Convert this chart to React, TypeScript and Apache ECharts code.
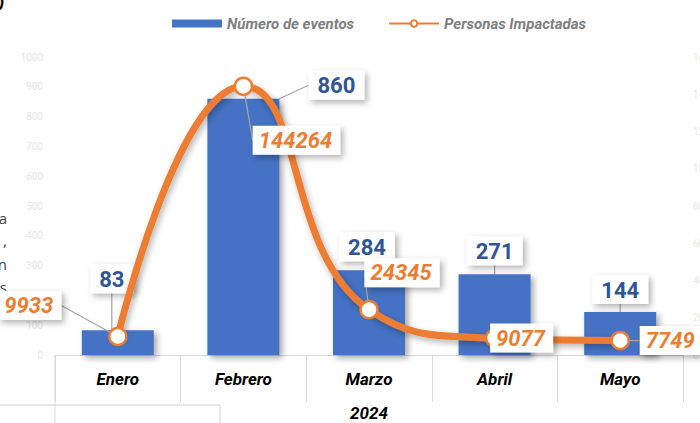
import React, { useEffect, useRef } from "react";
import * as echarts from "echarts";

const months = ["Enero", "Febrero", "Marzo", "Abril", "Mayo"];
const yearLabel = ["2024"];
const eventos = [83, 860, 284, 271, 144];
const personas = [9933, 144264, 24345, 9077, 7749];

// label offsets (style)
const barLabelOffsets = [
  [-6, -32],
  [93, 6],
  [-2, -4],
  [0, -4],
  [0, -3],
];
const lineLabelOffsets = [
  [-88, -31],
  [53, 54],
  [33, -37],
  [27, 0],
  [51, 0],
];

const FONT = "Roboto";
const BLUE = "#4472C4";
const DARKBLUE = "#2F5597";
const ORANGE = "#ED7D31";

export default function App() {
  const ref = useRef<HTMLDivElement>(null);
  useEffect(() => {
    if (!ref.current) return;
    const chart = echarts.init(ref.current, null, { renderer: "svg" });
    const boxShadow = {
      backgroundColor: "#ffffff",
      shadowBlur: 6,
      shadowColor: "rgba(0,0,0,0.3)",
      shadowOffsetX: 3,
      shadowOffsetY: 3,
    };
    chart.setOption({
      animation: false,
      backgroundColor: "#ffffff",
      textStyle: { fontFamily: FONT },
      grid: {
        left: 55,
        right: 17,
        top: 57,
        bottom: 68,
        containLabel: false,
        outerBoundsMode: "none",
      },
      legend: {
        top: 11,
        left: 167,
        itemGap: 34,
        itemWidth: 50,
        itemHeight: 8,
        textStyle: {
          color: "#808080",
          fontStyle: "italic",
          fontWeight: "bold",
          fontSize: 15,
          fontFamily: FONT,
        },
        data: [
          { name: "Número de eventos", icon: "rect" },
          { name: "Personas Impactadas" },
        ],
      },
      xAxis: [
        {
          type: "category",
          data: months,
          position: "bottom",
          axisLine: { show: true, lineStyle: { color: "#d9d9d9", width: 1 } },
          axisTick: { show: true, length: 47, lineStyle: { color: "#d9d9d9" } },
          axisLabel: {
            margin: 15,
            color: "#000",
            fontStyle: "italic",
            fontWeight: "bold",
            fontSize: 17,
            fontFamily: FONT,
          },
        },
        {
          type: "category",
          data: yearLabel,
          position: "bottom",
          offset: 47,
          axisLine: { show: false },
          axisTick: { show: false },
          axisLabel: {
            margin: 2,
            color: "#000",
            fontStyle: "italic",
            fontWeight: "bold",
            fontSize: 17,
            fontFamily: FONT,
          },
        },
      ],
      yAxis: [
        {
          type: "value",
          min: 0,
          max: 1000,
          interval: 100,
          splitLine: { show: false },
          axisLine: { show: false },
          axisTick: { show: false },
          axisLabel: {
            color: "#e6e6e6",
            fontSize: 10,
            margin: 12,
            formatter: (v: number) => String(v),
          },
        },
        {
          type: "value",
          min: 0,
          max: 160000,
          interval: 20000,
          splitLine: { show: false },
          axisLine: { show: false },
          axisTick: { show: false },
          axisLabel: {
            color: "#e6e6e6",
            fontSize: 10,
            margin: 10,
            formatter: (v: number) => String(v),
          },
        },
      ],
      series: [
        {
          name: "Número de eventos",
          type: "bar",
          data: eventos,
          barWidth: 72,
          yAxisIndex: 0,
          xAxisIndex: 0,
          z: 2,
          itemStyle: {
            color: BLUE,
            shadowBlur: 6,
            shadowColor: "rgba(0,0,0,0.35)",
            shadowOffsetX: 3,
            shadowOffsetY: 3,
          },
          label: {
            show: true,
            position: "top",
            color: DARKBLUE,
            fontSize: 22,
            fontWeight: "bold",
            fontFamily: FONT,
            padding: [4, 9, 3, 9],
            ...boxShadow,
          },
          labelLine: { show: true, lineStyle: { color: "#a6a6a6", width: 1.2 } },
          labelLayout: (p: any) => ({
            dx: barLabelOffsets[p.dataIndex][0],
            dy: barLabelOffsets[p.dataIndex][1],
            hideOverlap: false,
          }),
        },
        {
          name: "Personas Impactadas",
          type: "line",
          data: personas,
          yAxisIndex: 1,
          xAxisIndex: 0,
          smooth: true,
          z: 3,
          symbol: "circle",
          symbolSize: 17,
          lineStyle: {
            color: ORANGE,
            width: 7,
            shadowBlur: 6,
            shadowColor: "rgba(0,0,0,0.3)",
            shadowOffsetX: 2,
            shadowOffsetY: 3,
          },
          itemStyle: { color: "#ffffff", borderColor: ORANGE, borderWidth: 2.5 },
          label: {
            show: true,
            position: "inside",
            color: ORANGE,
            fontSize: 22,
            fontWeight: "bold",
            fontStyle: "italic",
            fontFamily: FONT,
            padding: [4, 8, 3, 6],
            ...boxShadow,
          },
          labelLine: { show: true, lineStyle: { color: "#a6a6a6", width: 1.2 } },
          labelLayout: (p: any) => ({
            dx: lineLabelOffsets[p.dataIndex][0],
            dy: lineLabelOffsets[p.dataIndex][1],
            hideOverlap: false,
          }),
        },
      ],
      graphic: [
        { type: "line", shape: { x1: 55, y1: 355, x2: 55, y2: 423 }, style: { stroke: "#d9d9d9", lineWidth: 1 } },
        { type: "line", shape: { x1: 0, y1: 405, x2: 220, y2: 405 }, style: { stroke: "#d0d0d0", lineWidth: 1 } },
        { type: "line", shape: { x1: 220, y1: 405, x2: 220, y2: 423 }, style: { stroke: "#d0d0d0", lineWidth: 1 } },
        { type: "text", x: 7, y: 218, style: { text: "a", align: "right", verticalAlign: "middle", font: "15px 'Open Sans'", fill: "#404040" } },
        { type: "text", x: 7, y: 240, style: { text: ",", align: "right", verticalAlign: "middle", font: "15px 'Open Sans'", fill: "#404040" } },
        { type: "text", x: 7, y: 264, style: { text: "n", align: "right", verticalAlign: "middle", font: "15px 'Open Sans'", fill: "#404040" } },
        { type: "text", x: 7, y: 287, style: { text: "s", align: "right", verticalAlign: "middle", font: "15px 'Open Sans'", fill: "#404040" } },
        { type: "text", x: 4, y: 0, style: { text: ")", align: "right", verticalAlign: "middle", font: "bold 18px 'Open Sans'", fill: "#000" } },
      ],
    });
    return () => chart.dispose();
  }, []);
  return (
    <div
      ref={ref}
      style={{ position: "fixed", left: 0, top: 0, width: 700, height: 423 }}
    />
  );
}
